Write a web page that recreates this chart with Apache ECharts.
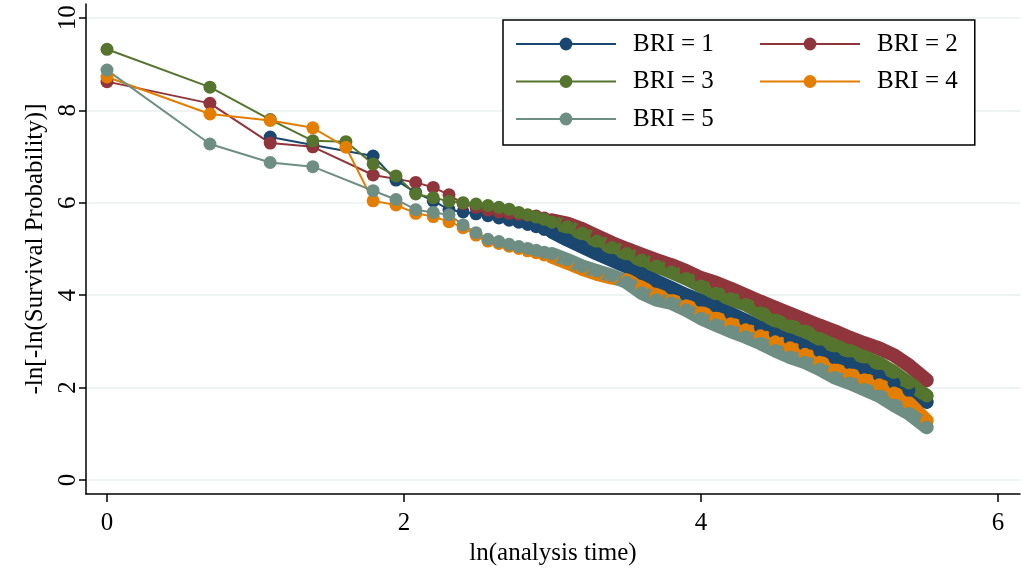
<!DOCTYPE html>
<html><head><meta charset="utf-8">
<script src="https://cdn.jsdelivr.net/npm/echarts@6/dist/echarts.min.js"></script>
<style>html,body{margin:0;padding:0;background:#fff}#c{width:1021px;height:568px}</style>
</head><body><div id="c"></div>
<script>
// ln(analysis time) positions
const lnTime = [0, 0.693, 1.099, 1.386, 1.609, 1.792, 1.946, 2.079, 2.197, 2.303, 2.398, 2.485, 2.565, 2.639, 2.708, 2.773, 2.833, 2.890, 2.944, 2.996,
  3.1, 3.2, 3.3, 3.4, 3.5, 3.6, 3.7, 3.8, 3.9, 4.0, 4.1, 4.2, 4.3, 4.4, 4.5, 4.6, 4.7, 4.8, 4.9, 5.0, 5.1, 5.2, 5.3, 5.4, 5.52];
// -ln[-ln(S)] per BRI group (null = no point at that time)
const bri1 = [null, null, 7.42, 7.25, null, 7.01, 6.49, 6.22, 6.04, 5.85, 5.80, 5.76, 5.72, 5.67, 5.62, 5.58, 5.53, 5.48, 5.42, 5.37,
  5.20, 5.05, 4.90, 4.76, 4.62, 4.47, 4.30, 4.15, 4.00, 3.88, 3.76, 3.60, 3.45, 3.30, 3.16, 3.03, 2.90, 2.78, 2.64, 2.53, 2.40, 2.26, 2.10, 1.94, 1.69];
const bri2 = [8.62, 8.15, 7.29, 7.21, null, 6.60, null, 6.44, 6.33, 6.17, 5.98, 5.90, 5.84, 5.80, 5.77, 5.75, 5.73, 5.71, 5.67, 5.62,
  5.55, 5.43, 5.28, 5.13, 5.00, 4.88, 4.76, 4.65, 4.52, 4.37, 4.27, 4.14, 4.00, 3.86, 3.73, 3.60, 3.47, 3.34, 3.22, 3.08, 2.96, 2.85, 2.70, 2.48, 2.16];
const bri3 = [9.32, 8.50, 7.80, 7.34, 7.32, 6.84, 6.58, 6.19, 6.11, 6.03, 6.00, 5.97, 5.94, 5.90, 5.86, 5.79, 5.74, 5.69, 5.64, 5.58,
  5.48, 5.34, 5.17, 5.03, 4.90, 4.76, 4.63, 4.50, 4.36, 4.20, 4.04, 3.92, 3.80, 3.62, 3.45, 3.33, 3.22, 3.05, 2.90, 2.79, 2.66, 2.52, 2.33, 2.10, 1.82];
const bri4 = [8.72, 7.92, 7.78, 7.62, 7.20, 6.04, 5.95, 5.77, 5.70, 5.59, 5.46, 5.30, 5.17, 5.12, 5.06, 5.01, 4.96, 4.92, 4.87, 4.83,
  4.70, 4.57, 4.46, 4.38, 4.32, 4.16, 4.00, 3.88, 3.77, 3.62, 3.50, 3.38, 3.25, 3.12, 2.99, 2.86, 2.72, 2.55, 2.38, 2.28, 2.17, 2.06, 1.88, 1.66, 1.28];
const bri5 = [8.87, 7.27, 6.87, 6.78, null, 6.26, 6.07, 5.85, 5.79, 5.74, 5.52, 5.35, 5.21, 5.16, 5.10, 5.05, 5.01, 4.97, 4.93, 4.89,
  4.76, 4.62, 4.52, 4.42, 4.28, 4.05, 3.90, 3.83, 3.68, 3.50, 3.36, 3.22, 3.10, 2.96, 2.80, 2.66, 2.55, 2.40, 2.22, 2.10, 1.96, 1.82, 1.62, 1.44, 1.14];
const seriesNames = ['BRI = 1', 'BRI = 2', 'BRI = 3', 'BRI = 4', 'BRI = 5'];
const xTicks = [0, 2, 4, 6];
const yTicks = [0, 2, 4, 6, 8, 10];

const allY = [bri1, bri2, bri3, bri4, bri5];
const colors = ['#1a476f', '#90353b', '#55752f', '#e37e00', '#6e8e84'];
const denseFrom = 2.99;
const FONT = 'Liberation Serif';

function pairs(ys, from) {
  const out = [];
  lnTime.forEach((x, i) => { if (ys[i] != null && x >= from) out.push([x, ys[i]]); });
  return out;
}

const series = [];
allY.forEach((ys, k) => {
  series.push({
    name: seriesNames[k], type: 'line', data: pairs(ys, -1),
    symbol: 'circle', symbolSize: 13, showAllSymbol: true,
    itemStyle: { color: colors[k], borderWidth: 0 },
    lineStyle: { color: colors[k], width: 2 },
    emphasis: { disabled: true }, silent: true, z: 2
  });
  series.push({
    name: seriesNames[k] + ' dense', type: 'line', data: pairs(ys, denseFrom),
    symbol: 'none',
    lineStyle: { color: colors[k], width: 14, cap: 'round', join: 'round' },
    emphasis: { disabled: true }, silent: true, z: 2
  });
});

const legendText = { fontFamily: FONT, fontSize: 25, color: '#000', lineHeight: 26, padding: [0, 0, 0, 12] };
const legendData = [
  { name: 'BRI = 1', textStyle: Object.assign({}, legendText, { width: 114.5 }) },
  { name: 'BRI = 3', textStyle: Object.assign({}, legendText, { width: 114.5 }) },
  { name: 'BRI = 5', textStyle: Object.assign({}, legendText, { width: 114.5 }) },
  { name: 'BRI = 2', textStyle: legendText },
  { name: 'BRI = 4', textStyle: legendText }
];

const chart = echarts.init(document.getElementById('c'), null, { renderer: 'canvas' });
chart.setOption({
  animation: false,
  backgroundColor: '#fff',
  grid: { left: 86, right: 1, top: 4, bottom: 74, containLabel: false, outerBoundsMode: 'none' },
  legend: {
    data: legendData, orient: 'vertical', left: 503, top: 20, height: 129,
    padding: [11, 17, 13, 12], itemGap: 11.5, itemWidth: 100, itemHeight: 16,
    borderColor: '#000', borderWidth: 1.5, backgroundColor: '#fff',
    textStyle: legendText, selectedMode: false
  },
  xAxis: {
    type: 'value', min: -0.1414, max: 6.148,
    axisLine: { show: true, onZero: false, lineStyle: { color: '#000', width: 1.5 } },
    axisTick: { show: true, customValues: xTicks, length: 8, lineStyle: { color: '#000', width: 1.5 } },
    axisLabel: { customValues: xTicks, margin: 17, fontFamily: FONT, fontSize: 25, color: '#000' },
    splitLine: { show: false },
    name: 'ln(analysis time)', nameLocation: 'middle', nameGap: 43,
    nameTextStyle: { fontFamily: FONT, fontSize: 25, color: '#000' }
  },
  yAxis: {
    type: 'value', min: -0.303, max: 10.30,
    axisLine: { show: true, onZero: false, lineStyle: { color: '#000', width: 1.5 } },
    axisTick: { show: true, customValues: yTicks, length: 7, lineStyle: { color: '#000', width: 1.5 } },
    axisLabel: { customValues: yTicks, rotate: 90, margin: 5, fontFamily: FONT, fontSize: 25, color: '#000' },
    splitLine: { show: true, lineStyle: { color: '#e8eff1', width: 1.5 } },
    name: '-ln[-ln(Survival Probability)]', nameLocation: 'middle', nameGap: 27, nameRotate: 90,
    nameTextStyle: { fontFamily: FONT, fontSize: 25, color: '#000' }
  },
  series: series
});
</script>
</body></html>
